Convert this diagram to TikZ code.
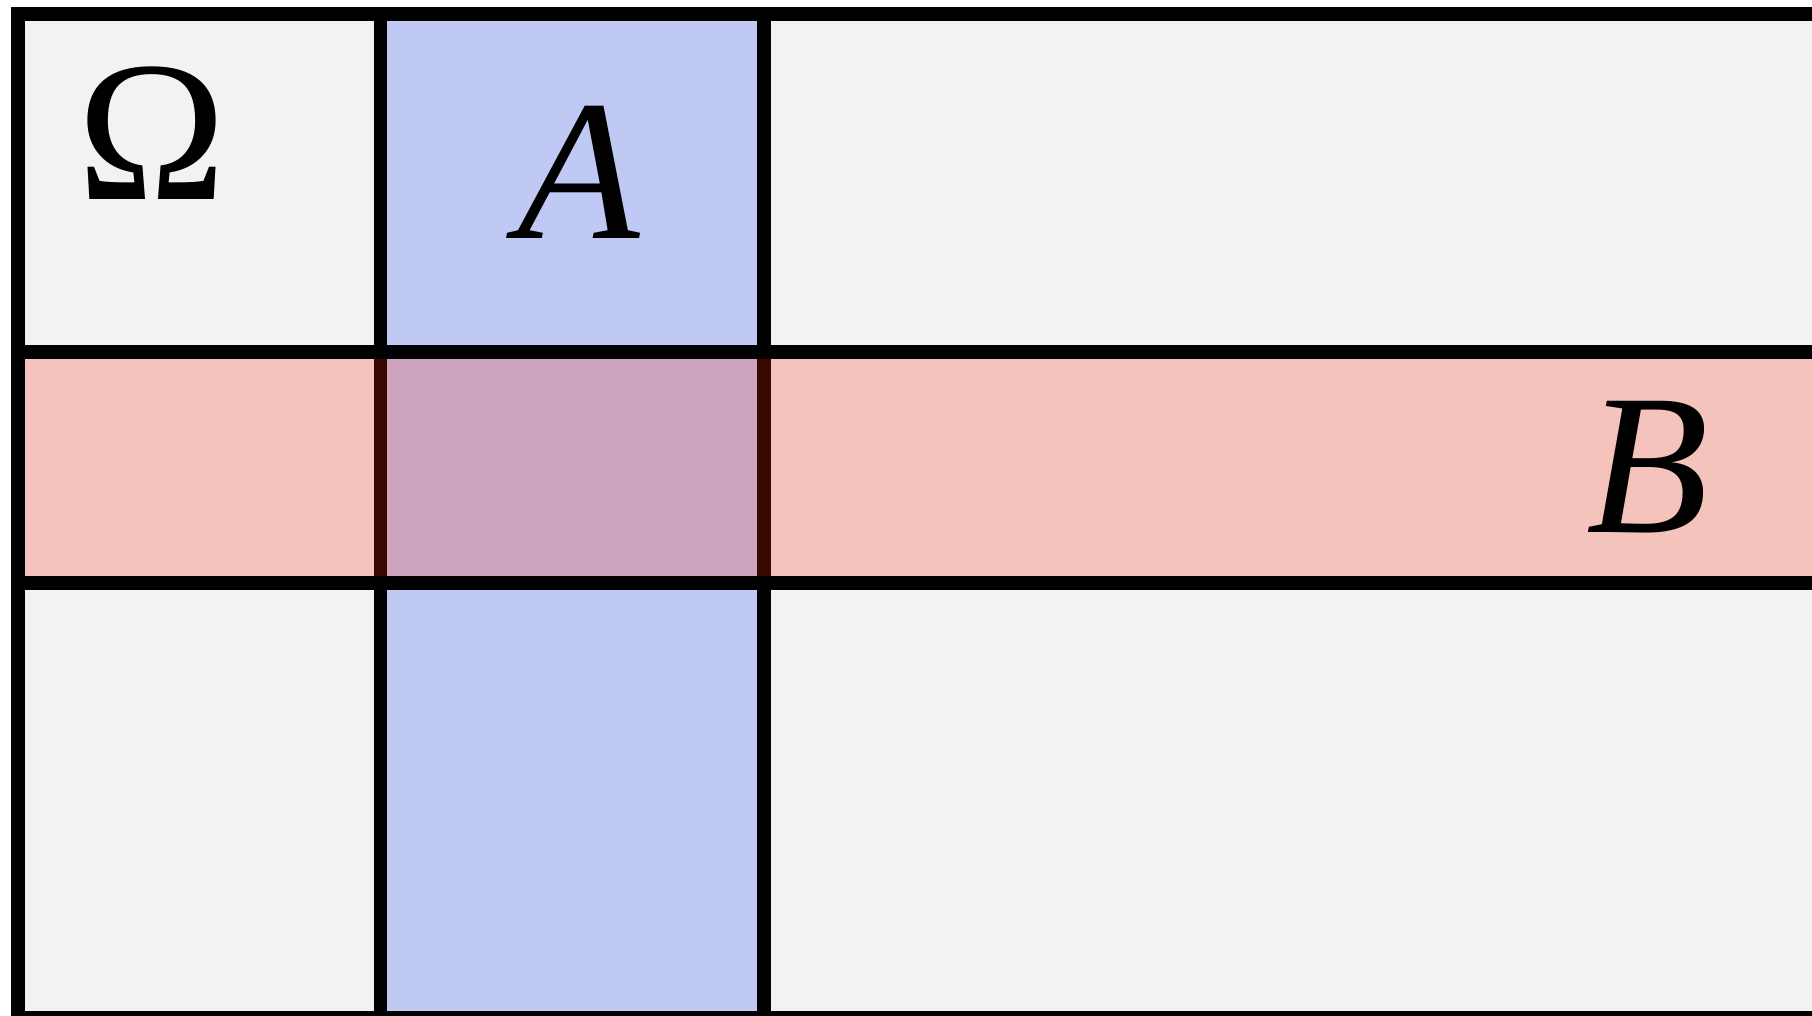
\documentclass[tikz,border=0pt]{standalone}
\usepackage{fontspec}
\setmainfont{Liberation Serif}
\usepackage{tikz}
\definecolor{omegaGray}{RGB}{242,242,242}
\definecolor{setBlue}{RGB}{192,201,244}
\definecolor{setRed}{RGB}{255,36,0}

\begin{document}
\begin{tikzpicture}[x=0.01cm,y=-0.01cm,
  edge/.style={line width=3.84pt, black},
  setlabel/.style={inner sep=0pt, font=\fontsize{57}{60}\selectfont}]
\clip (0,0) rectangle (1812,1015);
\fill[omegaGray] (18,14) rectangle (1840,1018);
\fill[setBlue] (380.5,14) rectangle (764,1018);
\draw[edge] (380.5,14)--(380.5,1030) (764,14)--(764,1030);
\fill[setRed, opacity=0.22] (18,352) rectangle (1840,583);
\draw[edge] (18,352)--(1840,352) (18,583)--(1840,583);
\draw[edge] (18,14) rectangle (1840,1018);
\node[setlabel] (omega) at (152,133) {Ω};
\node[setlabel] (labA) at (579,172) {\textit{A}};
\node[setlabel] (labB) at (1648,467) {\textit{B}};
\end{tikzpicture}
\end{document}
